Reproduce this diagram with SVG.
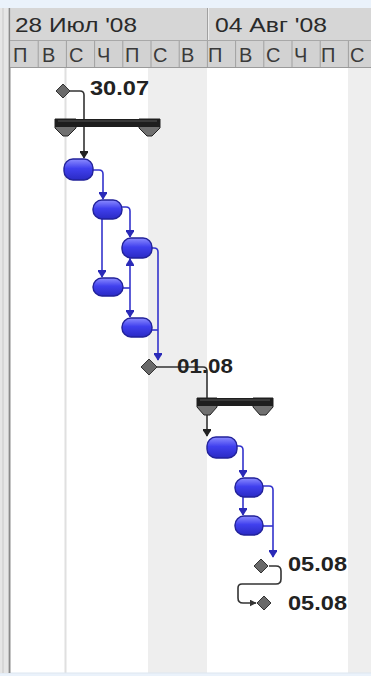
<svg xmlns="http://www.w3.org/2000/svg" width="371" height="676" viewBox="0 0 371 676">
<style>
.hdr{font-family:"Liberation Sans",Arial,sans-serif;font-size:20px;fill:#2a2a2a}
.day{font-family:"Liberation Sans",Arial,sans-serif;font-size:20px;fill:#3a3a3a}
.lbl{font-family:"Liberation Sans",Arial,sans-serif;font-size:21px;font-weight:bold;fill:#222}
.task{fill:url(#tg);stroke:#22229a;stroke-width:1.4}
.bl{fill:none;stroke:#3434cc;stroke-width:1.6}
.bk{fill:none;stroke:#333;stroke-width:1.6}
.ms{fill:#6a6a6a;stroke:#333;stroke-width:1}
.cap{fill:#707070;stroke:#222;stroke-width:1}
</style>
<defs>
<linearGradient id="tg" x1="0" y1="0" x2="0" y2="1">
<stop offset="0" stop-color="#8c8cff"/>
<stop offset="0.45" stop-color="#4040ee"/>
<stop offset="1" stop-color="#2a2ac4"/>
</linearGradient>
<marker id="ab" viewBox="0 0 10 10" refX="9" refY="5" markerWidth="8" markerHeight="10" orient="auto" markerUnits="userSpaceOnUse">
<path d="M0,0 H2 L10,5 L2,10 H0 Z" fill="#2a2ab8"/>
</marker>
<marker id="abk" viewBox="0 0 10 10" refX="9" refY="5" markerWidth="8" markerHeight="10" orient="auto" markerUnits="userSpaceOnUse">
<path d="M0,0 H2 L10,5 L2,10 H0 Z" fill="#222"/>
</marker>
<marker id="ak" viewBox="0 0 10 10" refX="9" refY="5" markerWidth="7" markerHeight="7" orient="auto" markerUnits="userSpaceOnUse">
<path d="M0,0 L10,5 L0,10 Z" fill="#333"/>
</marker>
</defs>

<!-- background -->
<rect x="0" y="0" width="371" height="676" fill="#eaf2fb"/>
<rect x="0" y="8" width="371" height="665" fill="#ffffff"/>
<!-- weekend shading -->
<rect x="148" y="68" width="59" height="605" fill="#eeeeee"/>
<rect x="348" y="68" width="23" height="605" fill="#eeeeee"/>
<line x1="65.5" y1="68" x2="65.5" y2="673" stroke="#e0e0e0" stroke-width="2"/>
<line x1="0" y1="673" x2="371" y2="673" stroke="#dde6f0"/>
<!-- left border -->
<rect x="0" y="8" width="8" height="665" fill="#e6e6e6"/>
<line x1="3" y1="8" x2="3" y2="673" stroke="#c8c8c8"/>
<line x1="9.5" y1="8" x2="9.5" y2="673" stroke="#8a8a8a" stroke-width="2"/>

<!-- header -->
<g id="header">
<rect x="10.5" y="8" width="361" height="32" fill="#d6d6d6"/>
<rect x="10.5" y="40" width="361" height="28" fill="#d2d2d2"/>
<line x1="10" y1="40.5" x2="371" y2="40.5" stroke="#a8a8a8"/>
<line x1="10" y1="67.5" x2="371" y2="67.5" stroke="#9a9a9a"/>
<line x1="207.5" y1="8" x2="207.5" y2="40" stroke="#a0a0a0"/>
<line x1="208.5" y1="8" x2="208.5" y2="40" stroke="#eeeeee"/>
<text class="hdr" x="15" y="32" textLength="122" lengthAdjust="spacingAndGlyphs">28 Июл '08</text>
<text class="hdr" x="215" y="32" textLength="112" lengthAdjust="spacingAndGlyphs">04 Авг '08</text>
<g stroke="#a0a0a0">
<line x1="38.2" y1="41" x2="38.2" y2="67"/>
<line x1="66.4" y1="41" x2="66.4" y2="67"/>
<line x1="94.6" y1="41" x2="94.6" y2="67"/>
<line x1="122.8" y1="41" x2="122.8" y2="67"/>
<line x1="151" y1="41" x2="151" y2="67"/>
<line x1="179.2" y1="41" x2="179.2" y2="67"/>
<line x1="207.4" y1="41" x2="207.4" y2="67"/>
<line x1="235.6" y1="41" x2="235.6" y2="67"/>
<line x1="263.8" y1="41" x2="263.8" y2="67"/>
<line x1="292" y1="41" x2="292" y2="67"/>
<line x1="320.2" y1="41" x2="320.2" y2="67"/>
<line x1="348.4" y1="41" x2="348.4" y2="67"/>
</g>
<g class="day">
<text x="13" y="62">П</text>
<text x="42" y="62">В</text>
<text x="69" y="62">С</text>
<text x="97" y="62">Ч</text>
<text x="125" y="62">П</text>
<text x="153" y="62">С</text>
<text x="181" y="62">В</text>
<text x="208" y="62">П</text>
<text x="239" y="62">В</text>
<text x="266" y="62">С</text>
<text x="294" y="62">Ч</text>
<text x="321" y="62">П</text>
<text x="350" y="62">С</text>
</g>
</g>

<!-- connectors -->
<g id="connectors">
<path class="bk" d="M70,91 H80 Q84,91 84,95 V158" marker-end="url(#abk)"/>
<path class="bl" d="M93,170 H99 Q103,170 103,174 V199" marker-end="url(#ab)"/>
<path class="bl" d="M122,207 H126 Q130,207 130,211 V237" marker-end="url(#ab)"/>
<path class="bl" d="M102,219 V277" marker-end="url(#ab)"/>
<path class="bl" d="M130,258 V317" marker-end="url(#ab)"/>
<path class="bl" d="M130,266 V259" marker-end="url(#ab)"/>
<path class="bl" d="M123,288 H130"/>
<path class="bl" d="M152,248 H154 Q158,248 158,252 V360" marker-end="url(#ab)"/>
<path class="bl" d="M152,330 H158"/>
<path class="bk" d="M157,367 H203 Q207,367 207,371 V436" marker-end="url(#abk)"/>
<path class="bl" d="M237,446 H239 Q243,446 243,450 V477" marker-end="url(#ab)"/>
<path class="bl" d="M243,497 V515" marker-end="url(#ab)"/>
<path class="bl" d="M262,486 H269 Q273,486 273,490 V557" marker-end="url(#ab)"/>
<path class="bl" d="M262,526 H273"/>
<path class="bk" d="M269,566 H276 Q281,566 281,571 V579 Q281,584 276,584 H242 Q238,584 238,588 V598 Q238,603 243,603 H256" marker-end="url(#ak)"/>
</g>

<!-- milestone 30.07 -->
<g id="m1">
<path class="ms" d="M63,84 L70,91 L63,98 L56,91 Z"/>
<text class="lbl" x="90" y="95" textLength="59" lengthAdjust="spacingAndGlyphs">30.07</text>
</g>

<!-- summary 1 -->
<g id="s1">
<path class="cap" d="M55,119 H76 V128 L68,136 H63 L55,128 Z"/>
<path class="cap" d="M139,119 H160 V128 L152,136 H147 L139,128 Z"/>
<rect x="55" y="119" width="105" height="8" fill="#1e1e1e"/>
<line x1="58" y1="121" x2="157" y2="121" stroke="#555"/>
</g>

<g id="t1"><rect class="task" x="64" y="159" width="29" height="21" rx="9"/></g>
<g id="t2"><rect class="task" x="93" y="200" width="29" height="19" rx="9"/></g>
<g id="t3"><rect class="task" x="122" y="238" width="30" height="20" rx="9"/></g>
<g id="t4"><rect class="task" x="93" y="278" width="30" height="18" rx="9"/></g>
<g id="t5"><rect class="task" x="122" y="318" width="30" height="19" rx="9"/></g>

<!-- milestone 01.08 -->
<g id="m2">
<path class="ms" d="M149,359 L157,367 L149,375 L141,367 Z"/>
<text class="lbl" x="177" y="373" textLength="56" lengthAdjust="spacingAndGlyphs">01.08</text>
</g>

<!-- summary 2 -->
<g id="s2">
<path class="cap" d="M197,398 H217 V407 L210,415 H204 L197,407 Z"/>
<path class="cap" d="M253,398 H273 V407 L266,415 H260 L253,407 Z"/>
<rect x="197" y="398" width="76" height="8" fill="#1e1e1e"/>
<line x1="200" y1="400" x2="270" y2="400" stroke="#555"/>
</g>

<g id="t6"><rect class="task" x="207" y="437" width="30" height="21" rx="9"/></g>
<g id="t7"><rect class="task" x="235" y="478" width="28" height="19" rx="9"/></g>
<g id="t8"><rect class="task" x="235" y="516" width="28" height="19" rx="9"/></g>

<!-- milestone 05.08 -->
<g id="m3">
<path class="ms" d="M261,559 L268,566 L261,573 L254,566 Z"/>
<text class="lbl" x="288" y="571" textLength="59" lengthAdjust="spacingAndGlyphs">05.08</text>
</g>
<g id="m4">
<path class="ms" d="M264,596 L271,603 L264,610 L257,603 Z"/>
<text class="lbl" x="288" y="610" textLength="59" lengthAdjust="spacingAndGlyphs">05.08</text>
</g>
</svg>
